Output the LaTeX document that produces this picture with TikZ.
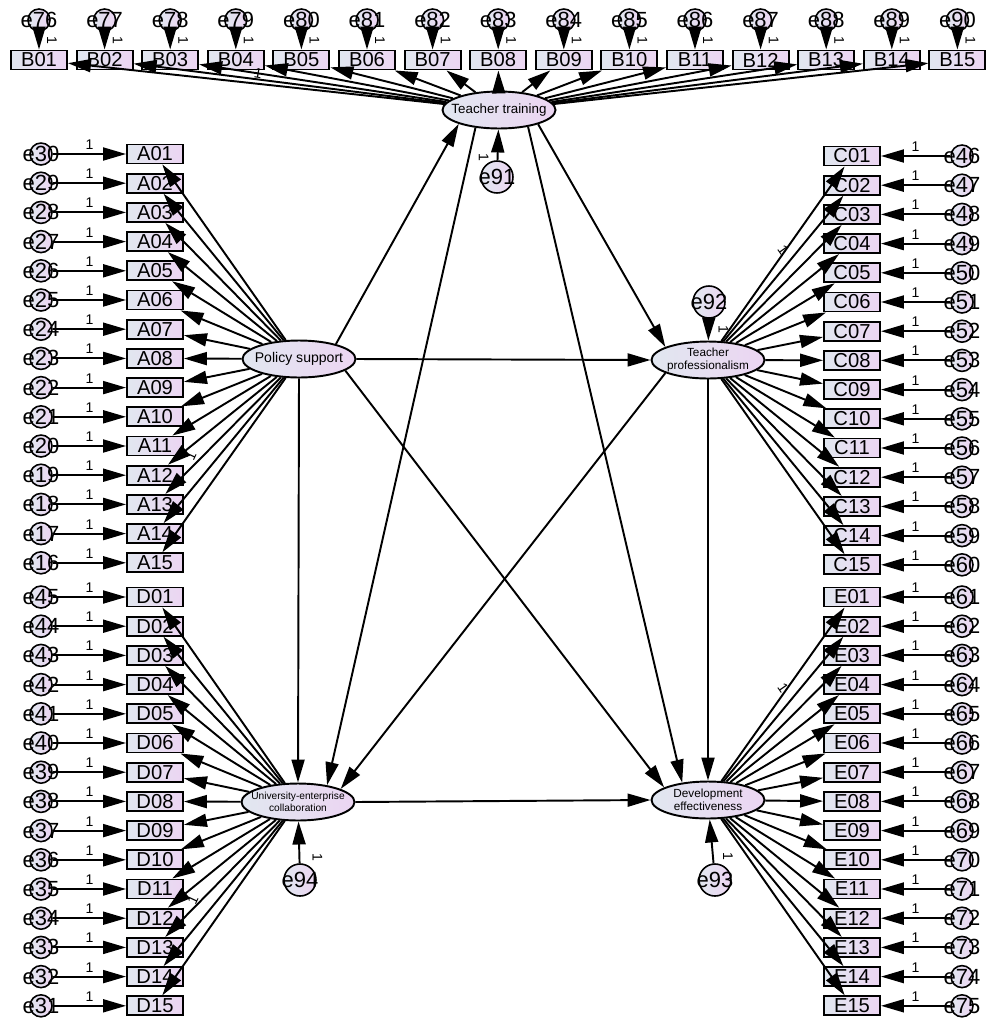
\documentclass[tikz,border=0pt]{standalone}
\usepackage{fontspec}
\setmainfont{Liberation Sans}
\usetikzlibrary{shapes.geometric, arrows.meta, positioning}
\definecolor{amosL}{RGB}{225,231,240}
\definecolor{amosR}{RGB}{236,213,242}
\tikzstyle{obsbox} = [rectangle, draw, line width=1.1pt, left color=amosL, right color=amosR, minimum width=1.12cm, minimum height=0.38cm, inner sep=0pt, font=\fontsize{11.5}{11.5}\selectfont]
\tikzstyle{latent} = [ellipse, draw, line width=1.1pt, left color=amosL, right color=amosR, minimum width=2.26cm, minimum height=0.74cm, inner sep=0pt]
\tikzstyle{errsmall} = [circle, draw, line width=0.9pt, left color=amosL, right color=amosR, minimum size=0.44cm, inner sep=0pt]
\tikzstyle{errbig} = [errsmall, minimum size=0.64cm]
\tikzstyle{line} = [draw, line width=1.1pt, -{Triangle[length=4.6mm, width=2.6mm]}]
\tikzstyle{fixlabel} = [font=\fontsize{8}{8}\selectfont, inner sep=1pt]
\def\idx{01,02,03,04,05,06,07,08,09,10,11,12,13,14,15}

\begin{document}
\begin{tikzpicture}[x=0.02cm, y=-0.02cm, every label/.style={font=\fontsize{12.5}{12.5}\selectfont, inner sep=0pt}]
    \useasboundingbox (0,0) rectangle (988,1018);
    % Latent variables
    \node [latent, label={[font=\fontsize{7.6}{8}\selectfont]center:Teacher training}] (tt) at (499,110) {};
    \node [latent, label={[font=\fontsize{8}{8}\selectfont]center:Policy support}] (ps) at (299,359) {};
    \node [latent, label={[font=\fontsize{6.7}{7.7}\selectfont, align=center]center:Teacher\\professionalism}] (tp) at (708,360) {};
    \node [latent, label={[font=\fontsize{5.8}{6.8}\selectfont, align=center]center:University-enterprise\\collaboration}] (uc) at (298,802) {};
    \node [latent, label={[font=\fontsize{6.7}{7.7}\selectfont, align=center]center:Development\\effectiveness}] (de) at (708,800) {};

    % Residuals of the latent variables
    \node [errbig, label=center:e91] (e91) at (497,177) {};
    \node [errbig, label=center:e92] (e92) at (709,302) {};
    \node [errbig, label=center:e93] (e93) at (715,880) {};
    \node [errbig, label=center:e94] (e94) at (300,880) {};

    % Indicators and their errors
    \foreach \n [count=\i] in \idx {
        \pgfmathsetmacro{\xb}{39+(\i-1)*65.6}
        \pgfmathsetmacro{\ya}{154+(\i-1)*29.2}
        \pgfmathsetmacro{\yc}{156+(\i-1)*29.2}
        \pgfmathsetmacro{\yd}{597+(\i-1)*29.2}
        \pgfmathtruncatemacro{\eA}{31-\i}
        \pgfmathtruncatemacro{\eB}{75+\i}
        \pgfmathtruncatemacro{\eC}{45+\i}
        \pgfmathtruncatemacro{\eD}{46-\i}
        \pgfmathtruncatemacro{\eE}{60+\i}
        \node [obsbox] (A\n) at (155,\ya) {A\n};
        \node [obsbox] (B\n) at (\xb,60) {B\n};
        \node [obsbox] (C\n) at (852,\yc) {C\n};
        \node [obsbox] (D\n) at (155,\yd) {D\n};
        \node [obsbox] (E\n) at (852,\yd) {E\n};
        \node [errsmall, label=center:e\eA] (e\eA) at (41,\ya) {};
        \node [errsmall, label=center:e\eB] (e\eB) at (\xb,20) {};
        \node [errsmall, label=center:e\eC] (e\eC) at (962,\yc) {};
        \node [errsmall, label=center:e\eD] (e\eD) at (41,\yd) {};
        \node [errsmall, label=center:e\eE] (e\eE) at (962,\yd) {};
    }

    % Loadings and error paths
    \foreach \n [count=\i] in \idx {
        \pgfmathtruncatemacro{\eA}{31-\i}
        \pgfmathtruncatemacro{\eB}{75+\i}
        \pgfmathtruncatemacro{\eC}{45+\i}
        \pgfmathtruncatemacro{\eD}{46-\i}
        \pgfmathtruncatemacro{\eE}{60+\i}
        \path [line] (e\eA) -- node [fixlabel, above=1pt] {1} (A\n);
        \path [line] (e\eB) -- node [fixlabel, xshift=0.26cm, rotate=-90] {1} (B\n);
        \path [line] (e\eC) -- node [fixlabel, above=1pt] {1} (C\n);
        \path [line] (e\eD) -- node [fixlabel, above=1pt] {1} (D\n);
        \path [line] (e\eE) -- node [fixlabel, above=1pt] {1} (E\n);
        \path [line] (ps) -- (A\n);
        \path [line] (tt) -- (B\n);
        \path [line] (tp) -- (C\n);
        \path [line] (uc) -- (D\n);
        \path [line] (de) -- (E\n);
    }
    \node [fixlabel, rotate=-10] (oneB) at (258,73) {1};
    \node [fixlabel, rotate=65] (oneA) at (191,456) {1};
    \node [fixlabel, rotate=-55] (oneC) at (783,250) {1};
    \node [fixlabel, rotate=65] (oneD) at (193,900) {1};
    \node [fixlabel, rotate=-55] (oneE) at (783,688) {1};

    % Structural paths
    \path [line] (ps.22) -- (tt.199);
    \path [line] (ps.east) -- (tp.west);
    \path [line] (ps.south) -- (uc.north);
    \path [line] (ps.-14) -- (de.164);
    \path [line] (tt.-20) -- (tp.163);
    \path [line] (tt.217) -- (uc.30);
    \path [line] (tt.-30) -- (de.146);
    \path [line] (tp.197) -- (uc.17);
    \path [line] (tp.south) -- (de.north);
    \path [line] (uc.east) -- (de.west);

    % Residual paths
    \path [line] (e91) -- node [fixlabel, pos=0.1, xshift=-0.28cm, rotate=-90] {1} (tt);
    \path [line] (e92) -- node [fixlabel, pos=0.5, xshift=0.3cm, rotate=-90] {1} (tp);
    \path [line] (e93) -- node [fixlabel, pos=0.15, xshift=0.3cm, rotate=-90] {1} (de);
    \path [line] (e94) -- node [fixlabel, pos=0.15, xshift=0.36cm, rotate=-90] {1} (uc);
\end{tikzpicture}
\end{document}
